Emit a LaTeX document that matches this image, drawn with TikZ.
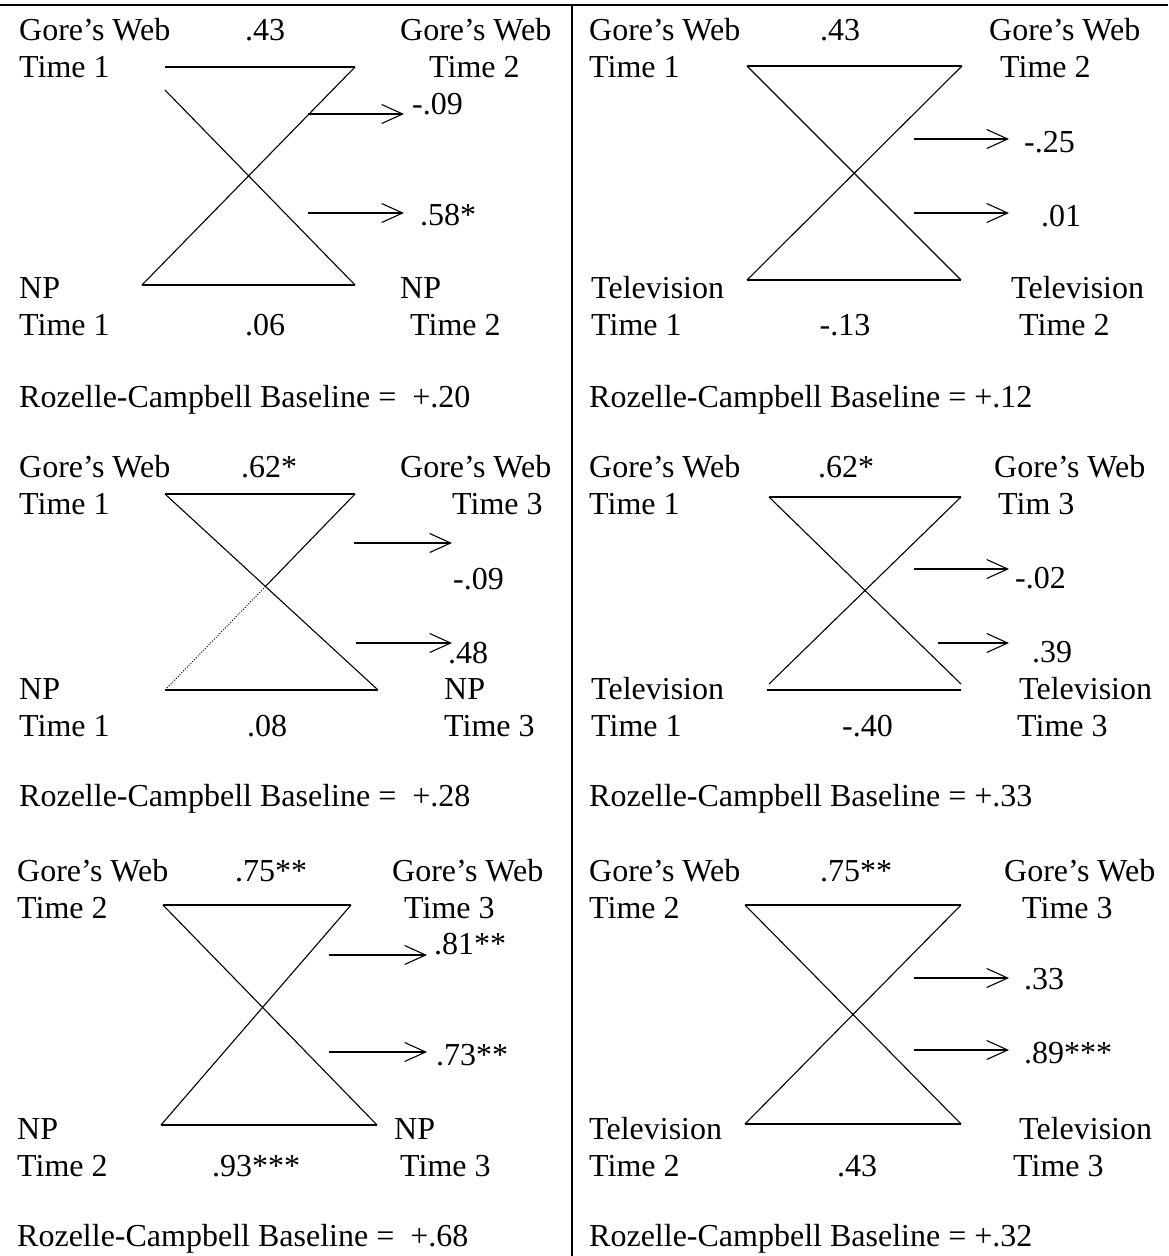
\documentclass[tikz,border=0pt]{standalone}
\usepackage{fontspec}
\setmainfont{Liberation Serif}
\usetikzlibrary{arrows.meta}
\begin{document}
\begin{tikzpicture}[x=1pt,y=-1pt,
  lbl/.style={anchor=base west,inner sep=0pt,font=\fontsize{32}{37}\selectfont},
  clbl/.style={anchor=base,inner sep=0pt,font=\fontsize{32}{37}\selectfont},
  conn/.style={line width=1.1pt},
  faint/.style={line width=1pt,dash pattern=on 1pt off 1.6pt},
  effect/.style={line width=1.1pt,-{Straight Barb[length=21pt,width=19pt,line width=1.1pt]}},
  framerule/.style={line width=2.8pt},
  divrule/.style={line width=1.3pt}]
\fill[white] (0,0) rectangle (1168,1256);
\useasboundingbox (0,0) rectangle (1168,1256);
% frame
\coordinate (fL) at (0,5);
\coordinate (fR) at (1168,5);
\coordinate (dT) at (572,5);
\coordinate (dB) at (572,1256);
\draw[framerule] (fL) -- (fR);
\draw[divrule] (dT) -- (dB);

% ---------- Panel 1 (top left) ----------
\node[lbl] (p1a1) at (19,40) {Gore’s Web};
\node[lbl] (p1a2) at (19,77) {Time 1};
\node[clbl] (p1top) at (265,40) {.43};
\node[lbl] (p1b1) at (400,40) {Gore’s Web};
\node[lbl] (p1b2) at (429,77) {Time 2};
\node[lbl] (p1c1) at (19,298) {NP};
\node[lbl] (p1c2) at (19,335) {Time 1};
\node[clbl] (p1bot) at (265,335) {.06};
\node[lbl] (p1d1) at (400,298) {NP};
\node[lbl] (p1d2) at (410,335) {Time 2};
\node[lbl] (p1e1) at (412,114) {-.09};
\node[lbl] (p1e2) at (420,225) {.58*};
\node[lbl] (p1rc) at (19,407) {Rozelle-Campbell Baseline = \ +.20};
\coordinate (p1tl) at (165,67);
\coordinate (p1tr) at (355,67);
\coordinate (p1bl) at (142,285);
\coordinate (p1br) at (355,285);
\coordinate (p1ds) at (165,90);
\coordinate (p1s1) at (308,114);
\coordinate (p1t1) at (404,114);
\coordinate (p1s2) at (308,213);
\coordinate (p1t2) at (404,213);
\draw[conn] (p1tl) -- (p1tr);
\draw[conn] (p1bl) -- (p1br);
\draw[conn] (p1ds) -- (p1br);
\draw[conn] (p1tr) -- (p1bl);
\draw[effect] (p1s1) -- (p1t1);
\draw[effect] (p1s2) -- (p1t2);

% ---------- Panel 2 (top right) ----------
\node[lbl] (p2a1) at (589,40) {Gore’s Web};
\node[lbl] (p2a2) at (589,77) {Time 1};
\node[clbl] (p2top) at (840,40) {.43};
\node[lbl] (p2b1) at (989,40) {Gore’s Web};
\node[lbl] (p2b2) at (1000,77) {Time 2};
\node[lbl] (p2c1) at (591,298) {Television};
\node[lbl] (p2c2) at (591,335) {Time 1};
\node[clbl] (p2bot) at (845,335) {-.13};
\node[lbl] (p2d1) at (1011,298) {Television};
\node[lbl] (p2d2) at (1019,335) {Time 2};
\node[lbl] (p2e1) at (1024,152) {-.25};
\node[lbl] (p2e2) at (1041,226) {.01};
\node[lbl] (p2rc) at (589,407) {Rozelle-Campbell Baseline = +.12};
\coordinate (p2tl) at (747,66);
\coordinate (p2tr) at (962,66);
\coordinate (p2bl) at (747,280);
\coordinate (p2br) at (961,280);
\coordinate (p2s1) at (914,139);
\coordinate (p2t1) at (1009,139);
\coordinate (p2s2) at (914,213);
\coordinate (p2t2) at (1009,213);
\draw[conn] (p2tl) -- (p2tr);
\draw[conn] (p2bl) -- (p2br);
\draw[conn] (p2tl) -- (p2br);
\draw[conn] (p2tr) -- (p2bl);
\draw[effect] (p2s1) -- (p2t1);
\draw[effect] (p2s2) -- (p2t2);

% ---------- Panel 3 (middle left) ----------
\node[lbl] (p3a1) at (19,477) {Gore’s Web};
\node[lbl] (p3a2) at (19,514) {Time 1};
\node[lbl] (p3top) at (241,477) {.62*};
\node[lbl] (p3b1) at (400,477) {Gore’s Web};
\node[lbl] (p3b2) at (452,514) {Time 3};
\node[lbl] (p3c1) at (19,699) {NP};
\node[lbl] (p3c2) at (19,736) {Time 1};
\node[lbl] (p3bot) at (247,736) {.08};
\node[lbl] (p3d1) at (444,699) {NP};
\node[lbl] (p3d2) at (444,736) {Time 3};
\node[lbl] (p3e1) at (453,589) {-.09};
\node[lbl] (p3e2) at (448,663) {.48};
\node[lbl] (p3rc) at (19,806) {Rozelle-Campbell Baseline = \ +.28};
\coordinate (p3tl) at (165,494);
\coordinate (p3tr) at (355,494);
\coordinate (p3bl) at (165,690);
\coordinate (p3br) at (378,690);
\coordinate (p3x) at (intersection of p3tl--p3br and p3tr--p3bl);
\coordinate (p3s1) at (354,543);
\coordinate (p3t1) at (452,543);
\coordinate (p3s2) at (356,643);
\coordinate (p3t2) at (452,643);
\draw[conn] (p3tl) -- (p3tr);
\draw[conn] (p3bl) -- (p3br);
\draw[conn] (p3tl) -- (p3br);
\draw[conn] (p3tr) -- (p3x);
\draw[faint] (p3x) -- (p3bl);
\draw[effect] (p3s1) -- (p3t1);
\draw[effect] (p3s2) -- (p3t2);

% ---------- Panel 4 (middle right) ----------
\node[lbl] (p4a1) at (589,477) {Gore’s Web};
\node[lbl] (p4a2) at (589,514) {Time 1};
\node[lbl] (p4top) at (818,477) {.62*};
\node[lbl] (p4b1) at (994,477) {Gore’s Web};
\node[lbl] (p4b2) at (998,514) {Tim 3};
\node[lbl] (p4c1) at (591,699) {Television};
\node[lbl] (p4c2) at (591,736) {Time 1};
\node[lbl] (p4bot) at (842,736) {-.40};
\node[lbl] (p4d1) at (1019,699) {Television};
\node[lbl] (p4d2) at (1017,736) {Time 3};
\node[lbl] (p4e1) at (1015,588) {-.02};
\node[lbl] (p4e2) at (1032,662) {.39};
\node[lbl] (p4rc) at (589,806) {Rozelle-Campbell Baseline = +.33};
\coordinate (p4tl) at (769,497);
\coordinate (p4tr) at (961,497);
\coordinate (p4bl) at (767,690);
\coordinate (p4br) at (961,690);
\coordinate (p4dl) at (769,684);
\coordinate (p4dr) at (961,684);
\coordinate (p4s1) at (914,569);
\coordinate (p4t1) at (1009,569);
\coordinate (p4s2) at (938,643);
\coordinate (p4t2) at (1009,643);
\draw[conn] (p4tl) -- (p4tr);
\draw[conn] (p4bl) -- (p4br);
\draw[conn] (p4tl) -- (p4dr);
\draw[conn] (p4tr) -- (p4dl);
\draw[effect] (p4s1) -- (p4t1);
\draw[effect] (p4s2) -- (p4t2);

% ---------- Panel 5 (bottom left) ----------
\node[lbl] (p5a1) at (17,881) {Gore’s Web};
\node[lbl] (p5a2) at (17,918) {Time 2};
\node[lbl] (p5top) at (235,881) {.75**};
\node[lbl] (p5b1) at (392,881) {Gore’s Web};
\node[lbl] (p5b2) at (404,918) {Time 3};
\node[lbl] (p5c1) at (17,1139) {NP};
\node[lbl] (p5c2) at (17,1176) {Time 2};
\node[lbl] (p5bot) at (212,1176) {.93***};
\node[lbl] (p5d1) at (394,1139) {NP};
\node[lbl] (p5d2) at (400,1176) {Time 3};
\node[lbl] (p5e1) at (434,954) {.81**};
\node[lbl] (p5e2) at (436,1065) {.73**};
\node[lbl] (p5rc) at (17,1246) {Rozelle-Campbell Baseline = \ +.68};
\coordinate (p5tl) at (163,905);
\coordinate (p5tr) at (351,905);
\coordinate (p5bl) at (161,1125);
\coordinate (p5br) at (377,1125);
\coordinate (p5s1) at (329,955);
\coordinate (p5t1) at (427,955);
\coordinate (p5s2) at (329,1052);
\coordinate (p5t2) at (427,1052);
\draw[conn] (p5tl) -- (p5tr);
\draw[conn] (p5bl) -- (p5br);
\draw[conn] (p5tl) -- (p5br);
\draw[conn] (p5tr) -- (p5bl);
\draw[effect] (p5s1) -- (p5t1);
\draw[effect] (p5s2) -- (p5t2);

% ---------- Panel 6 (bottom right) ----------
\node[lbl] (p6a1) at (589,881) {Gore’s Web};
\node[lbl] (p6a2) at (589,918) {Time 2};
\node[lbl] (p6top) at (820,881) {.75**};
\node[lbl] (p6b1) at (1004,881) {Gore’s Web};
\node[lbl] (p6b2) at (1022,918) {Time 3};
\node[lbl] (p6c1) at (589,1139) {Television};
\node[lbl] (p6c2) at (589,1176) {Time 2};
\node[lbl] (p6bot) at (837,1176) {.43};
\node[lbl] (p6d1) at (1019,1139) {Television};
\node[lbl] (p6d2) at (1013,1176) {Time 3};
\node[lbl] (p6e1) at (1024,989) {.33};
\node[lbl] (p6e2) at (1024,1063) {.89***};
\node[lbl] (p6rc) at (589,1246) {Rozelle-Campbell Baseline = +.32};
\coordinate (p6tl) at (745,905);
\coordinate (p6tr) at (961,905);
\coordinate (p6bl) at (745,1124);
\coordinate (p6br) at (961,1124);
\coordinate (p6s1) at (914,978);
\coordinate (p6t1) at (1009,978);
\coordinate (p6s2) at (914,1050);
\coordinate (p6t2) at (1009,1050);
\draw[conn] (p6tl) -- (p6tr);
\draw[conn] (p6bl) -- (p6br);
\draw[conn] (p6tl) -- (p6br);
\draw[conn] (p6tr) -- (p6bl);
\draw[effect] (p6s1) -- (p6t1);
\draw[effect] (p6s2) -- (p6t2);
\end{tikzpicture}
\end{document}
